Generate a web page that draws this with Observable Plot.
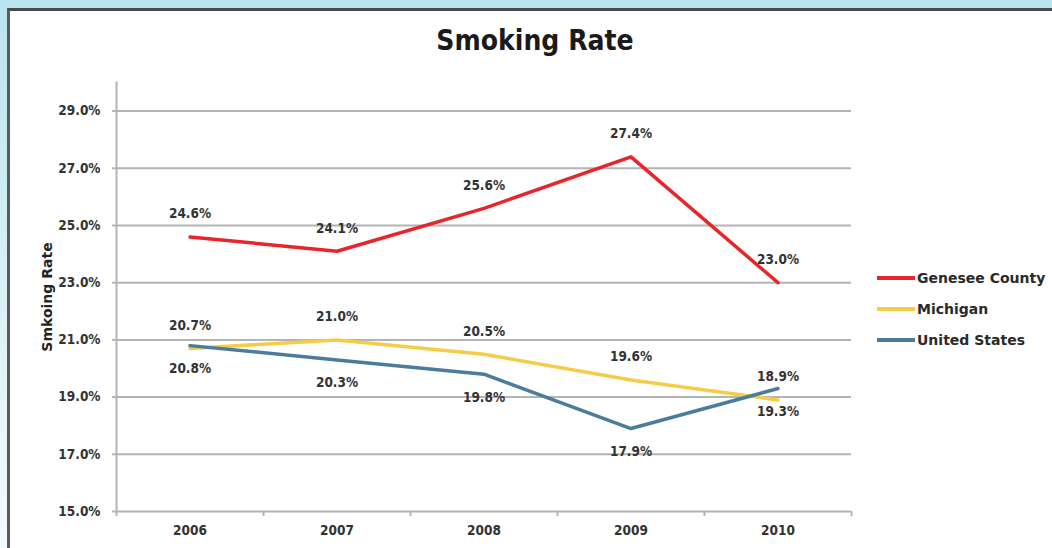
<!DOCTYPE html>
<html>
<head>
<meta charset="utf-8">
<script src="https://cdn.jsdelivr.net/npm/d3@7"></script>
<script src="https://cdn.jsdelivr.net/npm/@observablehq/plot@0.6"></script>
<style>
  html, body { margin: 0; padding: 0; width: 1052px; height: 548px; overflow: hidden; }
  body { background: linear-gradient(180deg, #b9e4ee 0%, #d8f0f4 50%, #f4fbfc 100%); position: relative; font-family: "DejaVu Sans", sans-serif; }
  #panel { position: absolute; left: 7px; top: 8px; width: 1100px; height: 600px; background: #fff; border-left: 3px solid #5a5a5a; border-top: 3px solid #4a4a4a; }
  #title { position: absolute; left: 0; top: 24px; width: 1070px; text-align: center; font-family: "DejaVu Sans Condensed", "DejaVu Sans", sans-serif; font-size: 28px; font-weight: bold; color: #1a1a1a; }
  #chart { position: absolute; left: 0; top: 0; }
  #legend { position: absolute; left: 877px; top: 262px; font-family: "DejaVu Sans", sans-serif; font-size: 14px; font-weight: bold; color: #2a2a2a; }
  .item { display: flex; align-items: center; height: 31px; }
  .swatch { width: 38px; height: 4px; margin-right: 2px; }
</style>
</head>
<body>
<div id="panel"></div>
<div id="title">Smoking Rate</div>
<div id="chart"></div>
<div id="legend"></div>
<script>
const years = [2006, 2007, 2008, 2009, 2010];
const seriesNames = ["Genesee County", "Michigan", "United States"];
const genesee = [24.6, 24.1, 25.6, 27.4, 23.0];
const michigan = [20.7, 21.0, 20.5, 19.6, 18.9];
const unitedStates = [20.8, 20.3, 19.8, 17.9, 19.3];
const colors = ["#e8242c", "#f5cc48", "#4b7c9c"];
const labelSide = [-1, -1, 1]; // labels above for Genesee & Michigan, below for US
const yTicks = [15, 17, 19, 21, 23, 25, 27, 29];

const seriesValues = [genesee, michigan, unitedStates];
const data = seriesNames.flatMap((name, si) =>
  years.map((year, i) => ({series: name, year, value: seriesValues[si][i], side: labelSide[si]}))
);
const boundaries = [...years.map(y => y - 0.5), years[years.length - 1] + 0.5];
const cond = "'DejaVu Sans Condensed', 'DejaVu Sans', sans-serif";
const lbl = {fontFamily: cond, fontSize: 13.5, fontWeight: "bold", fill: "#333"};

const chart = Plot.plot({
  width: 860,
  height: 548,
  marginLeft: 116,
  marginRight: 9,
  marginTop: 82,
  marginBottom: 37,
  style: {fontFamily: cond, fontSize: "13px", fontWeight: "bold", color: "#333", background: "transparent", overflow: "visible"},
  x: {domain: [2005.5, 2010.5]},
  y: {domain: [15, 30]},
  color: {domain: seriesNames, range: colors},
  marks: [
    Plot.gridY(yTicks, {stroke: "#b4b4b4", strokeOpacity: 1, strokeWidth: 2}),
    Plot.axisY({ticks: yTicks, tickFormat: d => d.toFixed(1) + "%", tickSize: 4, tickPadding: 12, stroke: "#b4b4b4", strokeWidth: 2,
      label: null, fill: "#333", fontFamily: cond, fontSize: 13.5, fontWeight: "bold"}),
    Plot.axisY({ticks: [], label: "Smkoing Rate", labelAnchor: "center", labelArrow: "none", labelOffset: 74,
      fontFamily: "'DejaVu Sans', sans-serif", fontSize: 14, fontWeight: "bold", fill: "#222"}),
    Plot.frame({anchor: "left", stroke: "#b4b4b4", strokeWidth: 2}),
    Plot.axisX({ticks: boundaries, tickFormat: () => "", tickSize: 5, stroke: "#b4b4b4", strokeWidth: 2, label: null}),
    Plot.axisX({ticks: years, tickFormat: d => String(d), tickSize: 0, tickPadding: 14, label: null, fill: "#333",
      fontFamily: cond, fontSize: 13.5, fontWeight: "bold"}),
    Plot.line(data, {x: "year", y: "value", z: "series", stroke: "series", strokeWidth: 3.5}),
    Plot.text(data, {x: "year", y: "value", text: d => d.value.toFixed(1) + "%", ...lbl,
      filter: d => d.side < 0, dy: -23}),
    Plot.text(data, {x: "year", y: "value", text: d => d.value.toFixed(1) + "%", ...lbl,
      filter: d => d.side > 0, dy: 23})
  ]
});
document.getElementById("chart").appendChild(chart);

const legend = d3.select("#legend");
seriesNames.forEach((name, i) => {
  const row = legend.append("div").attr("class", "item");
  row.append("div").attr("class", "swatch").style("background", colors[i]);
  row.append("span").text(name);
});
</script>
</body>
</html>
